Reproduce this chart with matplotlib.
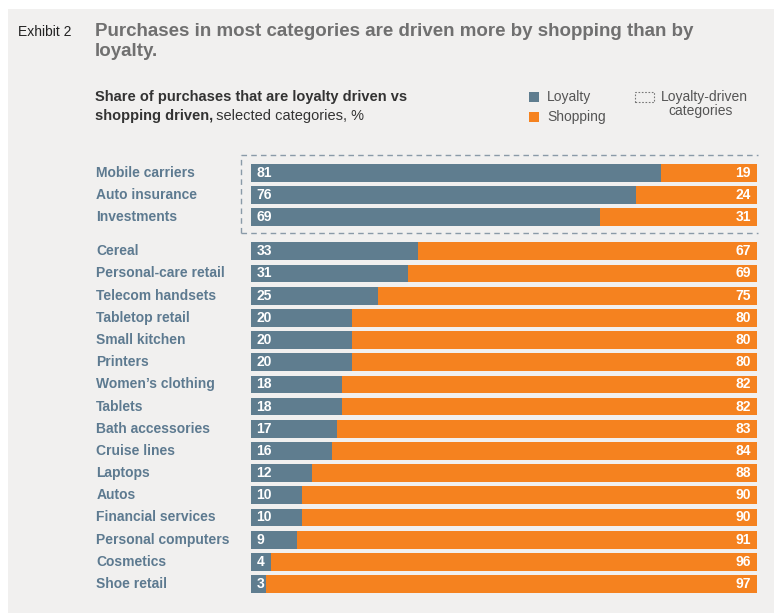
import numpy as np
import matplotlib
matplotlib.use("Agg")
import matplotlib.pyplot as plt
from matplotlib.patches import Rectangle

plt.rcParams['font.family'] = ['Liberation Sans', 'DejaVu Sans']

categories = ["Mobile carriers", "Auto insurance", "Investments",
              "Cereal", "Personal-care retail", "Telecom handsets", "Tabletop retail",
              "Small kitchen", "Printers", "Women\u2019s clothing", "Tablets",
              "Bath accessories", "Cruise lines", "Laptops", "Autos",
              "Financial services", "Personal computers", "Cosmetics", "Shoe retail"]
loyalty = [81, 76, 69, 33, 31, 25, 20, 20, 20, 18, 18, 17, 16, 12, 10, 10, 9, 4, 3]
shopping = [19, 24, 31, 67, 69, 75, 80, 80, 80, 82, 82, 83, 84, 88, 90, 90, 91, 96, 97]
n_loyal_group = 3

C_LOY = "#5f7d8f"
C_SHOP = "#f5821f"
C_LABEL = "#5d7a90"
BG = "#f1f0ef"

W, H = 774, 613
fig = plt.figure(figsize=(W / 100, H / 100), dpi=100)
fig.patch.set_facecolor("white")

def fx(px):
    return px / W

def fy(py):
    return 1 - py / H

# gray panel
fig.patches.append(Rectangle((fx(8), 0), 1 - fx(8), fy(9), transform=fig.transFigure,
                             facecolor=BG, edgecolor="none", zorder=-10))

# y positions: gap between the two groups
gap = 0.53
ypos = np.array([i if i < n_loyal_group else i + gap for i in range(len(categories))])

row_px = 22.2
top_px = 173 - 0.5 * row_px
bot_px = 584 + 0.5 * row_px
ax = fig.add_axes([fx(251), fy(bot_px), fx(757) - fx(251), (bot_px - top_px) / H])
ax.set_facecolor("none")
ax.barh(ypos, loyalty, height=0.8, color=C_LOY, edgecolor="none")
ax.barh(ypos, shopping, left=loyalty, height=0.8, color=C_SHOP, edgecolor="none")
ax.set_xlim(0, 100)
ax.set_ylim(ypos[-1] + 0.5, -0.5)
ax.axis("off")

for y, lv, sv, cat in zip(ypos, loyalty, shopping, categories):
    ax.text(1.1, y, str(lv), color="white", fontsize=10, fontweight="bold",
            va="center", ha="left")
    ax.text(98.8, y, str(sv), color="white", fontsize=10, fontweight="bold",
            va="center", ha="right")
    ax.text(-30.6, y, cat, color=C_LABEL, fontsize=10, fontweight="bold",
            va="center", ha="left")

# dashed box around loyalty-driven categories
bx0, bx1 = fx(241), fx(758)
by0, by1 = fy(233), fy(155)
dash = dict(color="#8a9aa8", lw=1, ls=(0, (4, 3)), transform=fig.transFigure)
fig.add_artist(plt.Line2D([bx0, bx1], [by1, by1], **dash))
fig.add_artist(plt.Line2D([bx0, bx1], [by0, by0], **dash))
fig.add_artist(plt.Line2D([bx0, bx0], [by0, by1], **dash))

# titles
fig.text(fx(18), fy(32), "Exhibit 2", fontsize=10, color="#222222", va="center")
fig.text(fx(95), fy(31), "Purchases in most categories are driven more by shopping than by",
         fontsize=13.5, fontweight="bold", color="#707070", va="center")
fig.text(fx(95), fy(52), "loyalty.", fontsize=13.5, fontweight="bold", color="#707070", va="center")

fig.text(fx(95), fy(97), "Share of purchases that are loyalty driven vs",
         fontsize=10.5, fontweight="bold", color="#333333", va="center")
fig.text(fx(95), fy(116), "shopping driven,", fontsize=10.5, fontweight="bold",
         color="#333333", va="center")
fig.text(fx(95 + 117), fy(116), " selected categories, %", fontsize=10.5,
         color="#333333", va="center")

# legend
fig.patches.append(Rectangle((fx(529), fy(102)), 10 / W, 10 / H, transform=fig.transFigure,
                             facecolor=C_LOY, edgecolor="none"))
fig.patches.append(Rectangle((fx(529), fy(122)), 10 / W, 10 / H, transform=fig.transFigure,
                             facecolor=C_SHOP, edgecolor="none"))
fig.text(fx(547), fy(97), "Loyalty", fontsize=10, color="#555555", va="center")
fig.text(fx(547), fy(117), "Shopping", fontsize=10, color="#555555", va="center")
fig.patches.append(Rectangle((fx(635), fy(102)), 19 / W, 10 / H, transform=fig.transFigure,
                             facecolor="none", edgecolor="#777777", lw=0.8, ls=(0, (1.5, 1.5))))
fig.text(fx(661), fy(97), "Loyalty-driven", fontsize=10, color="#555555", va="center")
fig.text(fx(701), fy(111), "categories", fontsize=10, color="#555555", va="center", ha="center")

fig.savefig("out.png", dpi=100, facecolor=fig.get_facecolor())
